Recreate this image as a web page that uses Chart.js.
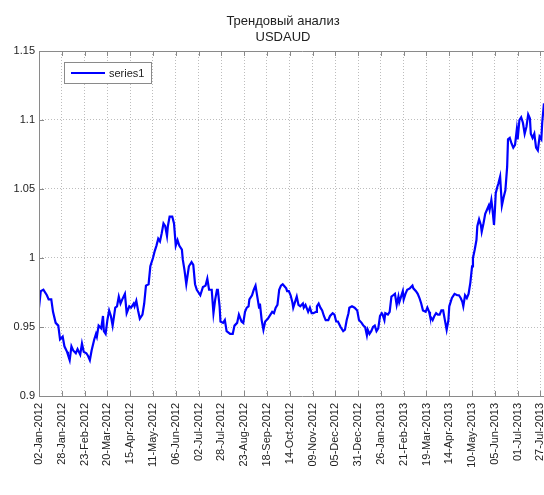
<!DOCTYPE html>
<html>
<head>
<meta charset="utf-8">
<script src="https://cdn.jsdelivr.net/npm/chart.js@4.4.1/dist/chart.umd.min.js"></script>
<style>
  html, body { margin: 0; padding: 0; background: #fff; overflow: hidden; }
  #wrap { width: 580px; height: 495px; }
</style>
</head>
<body>
<div id="wrap"><canvas id="c" width="580" height="495"></canvas></div>
<script>
// Day offsets from 02-Jan-2012
const days = [0,2,5,9,11,14,16,19,22,24,27,29,32,33,35,37,39,42,44,47,49,51,54,56,58,60,63,65,66,68,71,73,74,76,78,80,82,84,87,89,91,93,95,98,100,103,105,108,109,111,113,115,118,120,122,125,127,130,132,134,136,138,140,142,144,146,147,149,152,154,156,158,160,163,164,166,168,171,174,176,178,180,
184,187,190,192,194,197,199,201,203,204,206,207,210,212,214,218,221,223,226,228,231,233,235,237,239,240,243,245,247,249,251,252,254,256,258,261,264,266,268,270,272,274,276,278,282,283,285,287,289,290,292,294,296,298,301,302,304,307,309,311,313,316,317,319,321,323,325,327,330,332,335,337,339,341,344,347,349,351,353,354,357,360,363,365,
368,370,372,374,375,377,379,381,383,385,387,389,391,392,394,395,398,400,402,404,406,408,410,411,413,415,416,418,420,423,426,427,430,432,434,436,438,441,443,445,446,449,451,453,455,457,459,461,463,465,467,468,471,474,477,479,481,483,484,486,488,490,492,494,495,497,499,500,502,504,505,507,509,511,513,514,516,517,519,520,521,523,
524,526,528,530,532,534,535,537,539,541,543,545,546,548,550,552,554,556,558,560,561,563,565,567,569,571,573,574,576];

const series1 = [0.964,0.976,0.977,0.973,0.970,0.970,0.961,0.953,0.951,0.941,0.943,0.936,0.932,0.930,0.926,0.936,0.933,0.931,0.934,0.930,0.938,0.932,0.931,0.929,0.926,0.933,0.941,0.945,0.943,0.951,0.949,0.958,0.947,0.945,0.955,0.962,0.958,0.951,0.964,0.965,0.972,0.967,0.970,0.974,0.960,0.965,0.964,0.967,0.965,0.969,0.962,0.956,0.959,0.967,0.980,0.981,0.994,1.000,1.005,1.009,1.014,1.012,1.018,1.025,1.023,1.016,1.023,1.030,1.030,1.025,1.009,1.013,1.009,1.006,0.999,0.991,0.981,0.994,0.997,0.995,0.981,0.977,
0.973,0.979,0.980,0.985,0.977,0.977,0.960,0.970,0.977,0.977,0.965,0.954,0.953,0.955,0.947,0.945,0.945,0.951,0.953,0.959,0.954,0.953,0.961,0.964,0.965,0.970,0.973,0.977,0.980,0.972,0.964,0.967,0.955,0.948,0.954,0.956,0.959,0.961,0.960,0.964,0.966,0.977,0.980,0.981,0.978,0.976,0.976,0.973,0.968,0.964,0.968,0.972,0.966,0.965,0.967,0.964,0.966,0.961,0.964,0.960,0.960,0.961,0.965,0.967,0.964,0.962,0.958,0.955,0.955,0.958,0.960,0.959,0.954,0.954,0.950,0.947,0.948,0.955,0.960,0.964,0.965,0.964,0.962,0.955,
0.953,0.951,0.950,0.944,0.948,0.945,0.947,0.950,0.951,0.947,0.949,0.958,0.960,0.959,0.955,0.960,0.959,0.961,0.972,0.973,0.974,0.966,0.972,0.968,0.972,0.976,0.970,0.974,0.977,0.978,0.980,0.978,0.976,0.974,0.971,0.967,0.962,0.961,0.964,0.961,0.958,0.955,0.958,0.960,0.959,0.959,0.962,0.962,0.955,0.948,0.955,0.965,0.971,0.974,0.973,0.973,0.971,0.968,0.965,0.973,0.971,0.974,0.982,0.994,1.000,1.006,1.013,1.023,1.028,1.024,1.019,1.025,1.032,1.035,1.038,1.035,1.042,1.037,1.024,1.034,1.047,1.052,
1.054,1.059,1.038,1.044,1.049,1.066,1.086,1.087,1.083,1.080,1.082,1.093,1.086,1.100,1.102,1.098,1.090,1.095,1.104,1.101,1.090,1.087,1.090,1.080,1.078,1.088,1.086,1.098,1.112];

const xTickDays = [0,26,52,78,104,130,156,182,208,234,260,286,312,338,364,390,416,442,468,494,520,546,572];
const xTickLabels = ['02-Jan-2012','28-Jan-2012','23-Feb-2012','20-Mar-2012','15-Apr-2012','11-May-2012','06-Jun-2012','02-Jul-2012','28-Jul-2012','23-Aug-2012','18-Sep-2012','14-Oct-2012','09-Nov-2012','05-Dec-2012','31-Dec-2012','26-Jan-2013','21-Feb-2013','19-Mar-2013','14-Apr-2013','10-May-2013','05-Jun-2013','01-Jul-2013','27-Jul-2013'];
const yTickValues = [0.9,0.95,1,1.05,1.1,1.15];
const yTickLabels = ['0.9','0.95','1','1.05','1.1','1.15'];
const titleLines = ['Трендовый анализ','USDAUD'];
const seriesName = 'series1';

const FONT = '"Liberation Sans", Arial, sans-serif';
const FRAME = '#8a8a8a';

const decor = {
  id: 'decor',
  afterDraw(chart) {
    const {ctx, chartArea: a, scales} = chart;
    ctx.save();
    // frame
    ctx.strokeStyle = FRAME;
    ctx.lineWidth = 1;
    ctx.setLineDash([]);
    ctx.beginPath();
    ctx.moveTo(a.right + 0.5, a.top + 0.5);
    ctx.lineTo(a.left + 0.5, a.top + 0.5);
    ctx.lineTo(a.left + 0.5, a.bottom + 0.5);
    ctx.lineTo(a.right + 0.5, a.bottom + 0.5);
    ctx.stroke();
    // inward tick marks
    ctx.beginPath();
    xTickDays.forEach(d => {
      const x = Math.round(scales.x.getPixelForValue(d)) + 0.5;
      ctx.moveTo(x, a.top); ctx.lineTo(x, a.top + 5);
      ctx.moveTo(x, a.bottom); ctx.lineTo(x, a.bottom - 5);
    });
    yTickValues.forEach(v => {
      const y = Math.round(scales.y.getPixelForValue(v)) + 0.5;
      ctx.moveTo(a.left, y); ctx.lineTo(a.left + 5, y);
    });
    ctx.stroke();
    // title
    ctx.fillStyle = '#222';
    ctx.font = '13px ' + FONT;
    ctx.textAlign = 'center';
    ctx.textBaseline = 'middle';
    ctx.fillText(titleLines[0], 283, 21);
    ctx.fillText(titleLines[1], 283, 37);
    // legend
    ctx.fillStyle = '#fff';
    ctx.fillRect(64.5, 62.5, 87, 21);
    ctx.strokeStyle = FRAME;
    ctx.strokeRect(64.5, 62.5, 87, 21);
    ctx.strokeStyle = '#0000ff';
    ctx.lineWidth = 2;
    ctx.beginPath();
    ctx.moveTo(71, 73); ctx.lineTo(105, 73);
    ctx.stroke();
    ctx.fillStyle = '#222';
    ctx.font = '11px ' + FONT;
    ctx.textAlign = 'left';
    ctx.fillText(seriesName, 109, 73.5);
    ctx.restore();
  }
};

new Chart(document.getElementById('c'), {
  type: 'line',
  data: {
    datasets: [{
      label: seriesName,
      data: days.map((d, i) => ({x: d, y: series1[i]})),
      borderColor: '#0000ff',
      borderWidth: 2.2,
      pointRadius: 0,
      tension: 0,
      fill: false
    }]
  },
  options: {
    responsive: false,
    animation: false,
    layout: { padding: { top: 51, right: 15, left: 0, bottom: 0 } },
    plugins: { legend: { display: false }, title: { display: false }, tooltip: { enabled: false } },
    scales: {
      x: {
        type: 'linear',
        min: 0,
        max: 600,
        afterBuildTicks: s => { s.ticks = xTickDays.map(v => ({value: v})); },
        afterFit: s => { s.height = 99; },
        grid: { color: '#bdbdbd', lineWidth: 1, drawTicks: false },
        border: { display: false, dash: [1, 2] },
        ticks: {
          minRotation: 90, maxRotation: 90, autoSkip: false, padding: 7,
          color: '#222', font: { family: FONT, size: 11 },
          callback: (v, i) => xTickLabels[i]
        }
      },
      y: {
        min: 0.9,
        max: 1.15,
        afterBuildTicks: s => { s.ticks = yTickValues.map(v => ({value: v})); },
        afterFit: s => { s.width = 39; },
        grid: { color: '#bdbdbd', lineWidth: 1, drawTicks: false },
        border: { display: false, dash: [1, 2] },
        ticks: {
          padding: 4, color: '#222', font: { family: FONT, size: 11 },
          callback: (v, i) => yTickLabels[i]
        }
      }
    }
  },
  plugins: [decor]
});
</script>
</body>
</html>
